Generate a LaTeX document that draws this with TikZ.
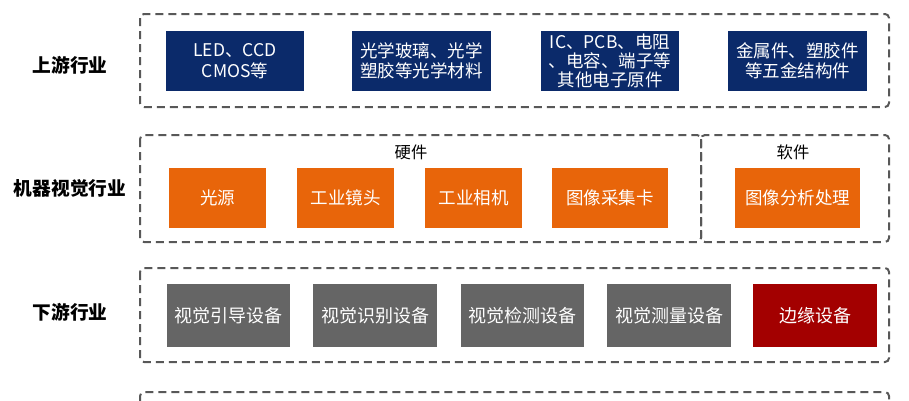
\documentclass[tikz,border=0pt]{standalone}
\usepackage{fontspec}
\setmainfont{Noto Sans CJK SC}
\definecolor{navy}{HTML}{0B2A6A}
\definecolor{orangeb}{HTML}{E8650A}
\definecolor{grayb}{HTML}{656565}
\definecolor{redb}{HTML}{A30000}
\definecolor{dashc}{HTML}{585858}
\tikzset{
  blk/.style={rectangle, inner sep=0pt, text=white, align=center, font=\fontsize{17.5}{20.5}\selectfont},
  navybox/.style={blk, fill=navy},
  orangebox/.style={blk, fill=orangeb},
  graybox/.style={blk, fill=grayb, font=\fontsize{18}{20}\selectfont},
  redbox/.style={blk, fill=redb, font=\fontsize{18}{20}\selectfont},
  group/.style={draw=dashc, line width=2pt, dash pattern=on 8pt off 5pt, rounded corners=4pt},
  rowlabel/.style={font=\fontsize{18.7}{20}\selectfont\bfseries, text=black},
  sublabel/.style={font=\fontsize{16.3}{18}\selectfont, text=black}
}
\begin{document}
\begin{tikzpicture}[x=1pt,y=-1pt]
\useasboundingbox (0,0) rectangle (909,400);
\fill[white] (0,0) rectangle (909,400);
\clip (0,0) rectangle (909,400);
% group frames
\draw[group] (140,14) rectangle (889,107);
\draw[group] (140,135) rectangle (701,242);
\draw[group] (701,135) rectangle (889,242);
\draw[group] (140,268) rectangle (889,362);
\draw[group] (140,392) rectangle (889,480);
% row labels
\node[rowlabel] (lup) at (70,65) {上游行业};
\node[rowlabel] (lmv) at (70,188) {机器视觉行业};
\node[rowlabel] (ldown) at (70,312) {下游行业};
\node[sublabel] (hw) at (411,152) {硬件};
\node[sublabel] (sw) at (793,152) {软件};
% upstream
\node[navybox, minimum width=138pt, minimum height=60pt] (u1) at (235,61) {LED、CCD\\CMOS等};
\node[navybox, minimum width=139pt, minimum height=60pt] (u2) at (421.5,61) {光学玻璃、光学\\塑胶等光学材料};
\node[navybox, minimum width=138pt, minimum height=60pt, font=\fontsize{17.5}{19}\selectfont] (u3) at (610,61) {IC、PCB、电阻\\、电容、端子等\\其他电子原件};
\node[navybox, minimum width=139pt, minimum height=60pt] (u4) at (797.5,61) {金属件、塑胶件\\等五金结构件};
% machine vision
\node[orangebox, minimum width=97pt, minimum height=60pt] (o1) at (217.5,198) {光源};
\node[orangebox, minimum width=97pt, minimum height=60pt] (o2) at (345.5,198) {工业镜头};
\node[orangebox, minimum width=97pt, minimum height=60pt] (o3) at (473.5,198) {工业相机};
\node[orangebox, minimum width=116pt, minimum height=60pt] (o4) at (610,198) {图像采集卡};
\node[orangebox, minimum width=125pt, minimum height=60pt] (o5) at (797.5,198) {图像分析处理};
% downstream
\node[graybox, minimum width=123pt, minimum height=63pt] (g1) at (228.5,315.5) {视觉引导设备};
\node[graybox, minimum width=124pt, minimum height=63pt] (g2) at (375,315.5) {视觉识别设备};
\node[graybox, minimum width=123pt, minimum height=63pt] (g3) at (522.5,315.5) {视觉检测设备};
\node[graybox, minimum width=124pt, minimum height=63pt] (g4) at (669,315.5) {视觉测量设备};
\node[redbox, minimum width=124pt, minimum height=63pt] (r5) at (815,315.5) {边缘设备};
\end{tikzpicture}
\end{document}
